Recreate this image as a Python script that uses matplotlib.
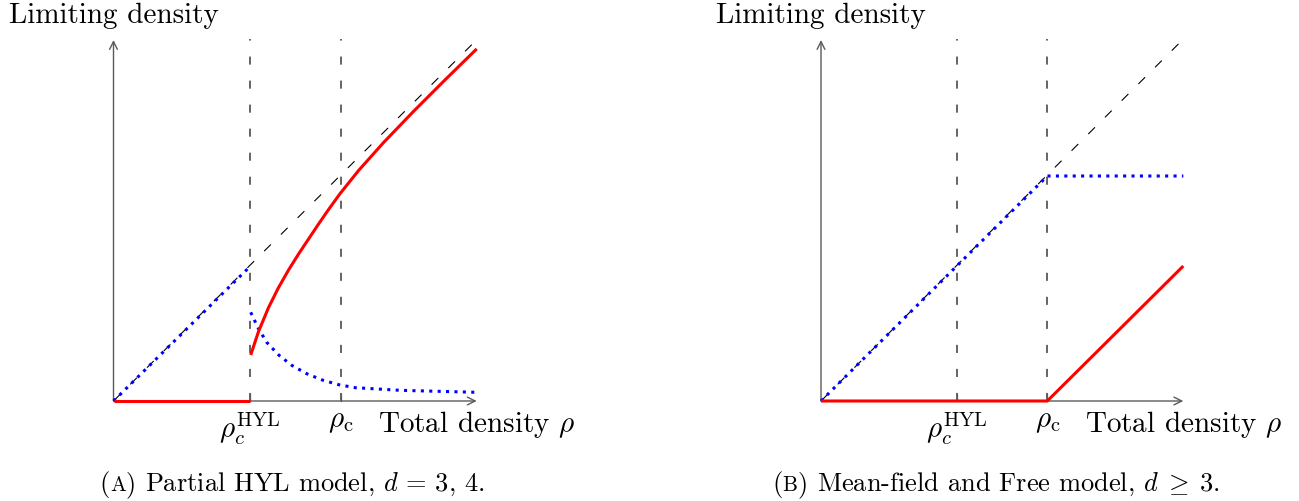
import matplotlib
matplotlib.use("Agg")
import matplotlib.pyplot as plt

plt.rcParams.update({
    "font.family": "cmr10",
    "mathtext.fontset": "cm",
    "axes.unicode_minus": False,
    "lines.scale_dashes": False,
})

# ---- panel (a): partial HYL model (units: 1 = 100 px) ----
rho_hyl_a = 1.365
rho_c_a = 2.27
x_end_a = 3.632
y_top_a = 3.61
diag_a_x = [0.0, 3.68]
diag_a_y = [0.0, 3.66]
red_a_low_x = [0.0, 1.365]
red_a_low_y = [0.0, 0.0]
red_a_x = [1.372, 1.45, 1.55, 1.65, 1.75, 1.85, 1.95, 2.05, 2.15, 2.265,
           2.45, 2.7, 3.0, 3.3, 3.632]
red_a_y = [0.46, 0.694, 0.934, 1.134, 1.309, 1.469, 1.619, 1.769, 1.914, 2.073,
           2.304, 2.584, 2.896, 3.196, 3.521]
blue_a_low_x = [0.0, 1.36]
blue_a_low_y = [0.0, 1.34]
blue_a_x = [1.372, 1.445, 1.532, 1.652, 1.782, 1.932, 2.088, 2.252, 2.418, 2.865, 3.625]
blue_a_y = [0.887, 0.733, 0.587, 0.46, 0.357, 0.273, 0.21, 0.163, 0.133, 0.107, 0.087]

# ---- panel (b): mean-field and free model ----
rho_hyl_b = 1.36
rho_c_b = 2.263
x_end_b = 3.623
y_top_b = 3.61
diag_b_x = [0.0, 3.607]
diag_b_y = [0.0, 3.603]
blue_b_x = [0.0, 2.263, 3.623]
blue_b_y = [0.0, 2.25, 2.25]
red_b_x = [0.0, 2.263, 3.623]
red_b_y = [0.0, 0.0, 1.35]

AXIS_C = "#5a5a5a"
VLINE_C = "#3a3a3a"
FS = 21
CAP_FS = 19

fig = plt.figure(figsize=(12.99, 5.01), dpi=100)
# axes span: left half / right half, 100 px per data unit
ax_a = fig.add_axes([0, 0, 650 / 1299, 1])
ax_b = fig.add_axes([650 / 1299, 0, 649 / 1299, 1])
ax_a.set_xlim(-1.135, 5.365)
ax_b.set_xlim(-1.71, 4.78)
for ax in (ax_a, ax_b):
    ax.set_ylim(-1.0, 4.01)
    ax.axis("off")
    ax.patch.set_alpha(0)


def draw_frame(ax, rhos, x_end, y_top, diag_x, diag_y):
    arrow = dict(arrowstyle="->", color=AXIS_C, lw=1.0,
                 shrinkA=0, shrinkB=0, mutation_scale=14)
    ax.annotate("", xy=(x_end, 0), xytext=(0, 0), arrowprops=arrow, zorder=2)
    ax.annotate("", xy=(0, y_top), xytext=(0, 0), arrowprops=arrow, zorder=2)
    for r in rhos:
        ax.plot([r, r], [0, y_top + 0.01], color=VLINE_C, lw=1.1,
                ls=(0, (5.8, 11.5)), zorder=1)
        ax.plot([r, r], [0, 0.07], color=AXIS_C, lw=0.9, zorder=2)
    ax.plot(diag_x, diag_y, color="black", lw=0.8,
            ls=(0, (6.8, 10.2)), zorder=1)
    ax.text(0, y_top + 0.175, "Limiting density", fontsize=FS,
            ha="center", va="baseline")
    ax.text(x_end, -0.307, r"Total density $\rho$", fontsize=FS,
            ha="center", va="baseline")
    ax.text(rhos[0], -0.37, r"$\rho_c^{\mathrm{HYL}}$", fontsize=FS,
            ha="center", va="baseline")
    ax.text(rhos[1], -0.257, r"$\rho_{\mathrm{c}}$", fontsize=FS,
            ha="center", va="baseline")


dot = dict(color="#0000ff", lw=2.2, ls=(0, (2.2, 3.85)),
           solid_capstyle="butt", dash_capstyle="butt", zorder=3)
red = dict(color="#ff0000", lw=2.2, solid_capstyle="butt",
           solid_joinstyle="round", zorder=4)

draw_frame(ax_a, [rho_hyl_a, rho_c_a], x_end_a, y_top_a, diag_a_x, diag_a_y)
ax_a.plot(blue_a_low_x, blue_a_low_y, **dot)
ax_a.plot(blue_a_x, blue_a_y, **dot)
ax_a.plot(red_a_low_x, red_a_low_y, **red)
ax_a.plot(red_a_x, red_a_y, **red)

draw_frame(ax_b, [rho_hyl_b, rho_c_b], x_end_b, y_top_b, diag_b_x, diag_b_y)
ax_b.plot(blue_b_x, blue_b_y, **dot)
ax_b.plot(red_b_x, red_b_y, **red)


def caption(cx_px, base_px, pieces):
    """Write text pieces side by side on one baseline, centred at cx_px."""
    fig.canvas.draw()
    renderer = fig.canvas.get_renderer()
    W, H = fig.bbox.width, fig.bbox.height
    texts, widths = [], []
    for s, size, gap in pieces:
        t = fig.text(0, 0, s, fontsize=size, ha="left", va="baseline")
        widths.append(t.get_window_extent(renderer).width + gap)
        texts.append(t)
    x = cx_px - sum(widths) / 2
    for t, w in zip(texts, widths):
        t.set_position((x / W, (H - base_px) / H))
        x += w


sp = CAP_FS * 100 / 72 * 0.333
caption(292, 491, [("(", CAP_FS, 0), ("A", CAP_FS * 0.8, 0), (")", CAP_FS, sp),
                   (r"Partial HYL model, $d$ = 3, 4.", CAP_FS, 0)])
caption(996, 491, [("(", CAP_FS, 0), ("B", CAP_FS * 0.8, 0), (")", CAP_FS, sp),
                   (r"Mean-field and Free model, $d\;\geq\;3$.", CAP_FS, 0)])

fig.savefig("out.png", dpi=100)
